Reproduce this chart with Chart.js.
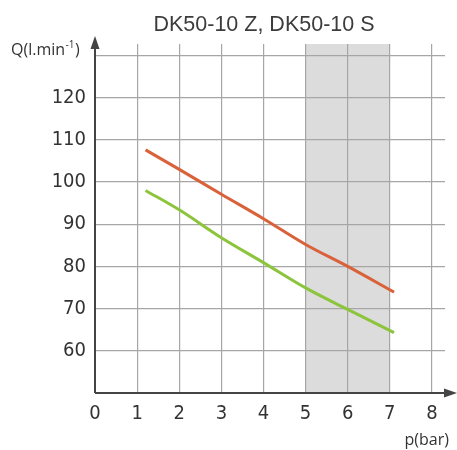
<!DOCTYPE html>
<html>
<head>
<meta charset="utf-8">
<script src="https://cdn.jsdelivr.net/npm/chart.js@4.4.0/dist/chart.umd.min.js"></script>
<style>
html,body{margin:0;padding:0;background:#fff;}
#wrap{width:457px;height:450px;position:relative;}
</style>
</head>
<body>
<div id="wrap"><canvas id="c"></canvas></div>
<script>
const chartTitle = 'DK50-10 Z, DK50-10 S';
const yAxisTitle = ['Q(l.min', '-1', ')'];
const xAxisTitle = 'p(bar)';
const pressure = [1.2, 2, 3, 4, 5, 6, 7.1];
const flowZ = [107.6, 103.0, 97.1, 91.3, 85.2, 80.0, 73.9];
const flowS = [98.0, 93.4, 86.8, 80.9, 74.9, 69.8, 64.3];
const xTicks = [0, 1, 2, 3, 4, 5, 6, 7, 8];
const yTicks = [60, 70, 80, 90, 100, 110, 120, 130];
const yLabelHidden = [130];
const band = [5, 7];

const GRID = '#a6a6a6';
const AXIS = '#444444';
const TEXT = '#333333';
const TICKFONT = '"DejaVu Sans Condensed", "Liberation Sans Narrow", sans-serif';

const deco = {
  id: 'deco',
  beforeDraw(chart) {
    const {ctx, chartArea: a, scales: {x, y}} = chart;
    ctx.save();
    ctx.fillStyle = '#fff';
    ctx.fillRect(0, 0, chart.width, chart.height);
    ctx.fillStyle = '#dcdcdc';
    const x0 = x.getPixelForValue(band[0]), x1 = x.getPixelForValue(band[1]);
    ctx.fillRect(x0, a.top, x1 - x0, a.bottom - a.top);
    ctx.restore();
  },
  afterDraw(chart) {
    const {ctx, chartArea: a, scales: {x, y}} = chart;
    const ox = x.getPixelForValue(0), oy = a.bottom;
    ctx.save();
    ctx.strokeStyle = AXIS; ctx.fillStyle = AXIS; ctx.lineWidth = 2;
    ctx.beginPath();
    ctx.moveTo(ox, oy); ctx.lineTo(ox, a.top - 2);
    ctx.moveTo(ox, oy); ctx.lineTo(a.right + 2, oy);
    ctx.stroke();
    ctx.beginPath();
    ctx.moveTo(ox, a.top - 8); ctx.lineTo(ox - 4.5, a.top + 5); ctx.lineTo(ox + 4.5, a.top + 5); ctx.closePath(); ctx.fill();
    ctx.beginPath();
    ctx.moveTo(a.right + 12, oy); ctx.lineTo(a.right - 1, oy - 4.5); ctx.lineTo(a.right - 1, oy + 4.5); ctx.closePath(); ctx.fill();
    ctx.fillStyle = '#3c3c3c';
    ctx.font = '21.5px "Liberation Sans", Arial, sans-serif';
    ctx.textAlign = 'center'; ctx.textBaseline = 'alphabetic';
    ctx.fillText(chartTitle, 264, 30.5);
    ctx.fillStyle = TEXT;
    ctx.textAlign = 'left';
    ctx.font = '16px "Open Sans", sans-serif';
    let px = 11;
    ctx.fillText(yAxisTitle[0], px, 55);
    px += ctx.measureText(yAxisTitle[0]).width;
    ctx.font = '10px "Open Sans", sans-serif';
    ctx.fillText(yAxisTitle[1], px + 0.5, 48);
    px += ctx.measureText(yAxisTitle[1]).width + 1;
    ctx.font = '16px "Open Sans", sans-serif';
    ctx.fillText(yAxisTitle[2], px, 55);
    ctx.textAlign = 'right';
    ctx.fillText(xAxisTitle, 449, 445);
    ctx.restore();
  }
};

new Chart(document.getElementById('c'), {
  type: 'line',
  data: {
    datasets: [
      {
        label: 'DK50-10 Z',
        data: pressure.map((p, i) => ({x: p, y: flowZ[i]})),
        borderColor: '#d9623a', borderWidth: 3, pointRadius: 0,
        cubicInterpolationMode: 'monotone', fill: false
      },
      {
        label: 'DK50-10 S',
        data: pressure.map((p, i) => ({x: p, y: flowS[i]})),
        borderColor: '#8cc43c', borderWidth: 3, pointRadius: 0,
        cubicInterpolationMode: 'monotone', fill: false
      }
    ]
  },
  options: {
    responsive: true,
    maintainAspectRatio: false,
    animation: false,
    events: [],
    layout: {padding: {left: 0, right: 12, top: 44, bottom: 0}},
    plugins: {legend: {display: false}, tooltip: {enabled: false}, title: {display: false}},
    scales: {
      x: {
        type: 'linear', min: 0, max: 8.31,
        afterBuildTicks: s => { s.ticks = xTicks.map(v => ({value: v})); },
        afterFit: s => { s.height = 57; },
        border: {display: false},
        grid: {color: GRID, lineWidth: 1.2, drawTicks: false},
        ticks: {padding: 9, color: TEXT, font: {family: TICKFONT, size: 20}, maxRotation: 0, autoSkip: false}
      },
      y: {
        type: 'linear', min: 50, max: 132.7,
        afterBuildTicks: s => { s.ticks = yTicks.map(v => ({value: v})); },
        afterFit: s => { s.width = 95; },
        border: {display: false},
        grid: {color: GRID, lineWidth: 1.2, drawTicks: false},
        ticks: {
          padding: 9, color: TEXT,
          font: {family: TICKFONT, size: 20},
          callback: v => yLabelHidden.includes(v) ? '' : String(v)
        }
      }
    }
  },
  plugins: [deco]
});
</script>
</body>
</html>
